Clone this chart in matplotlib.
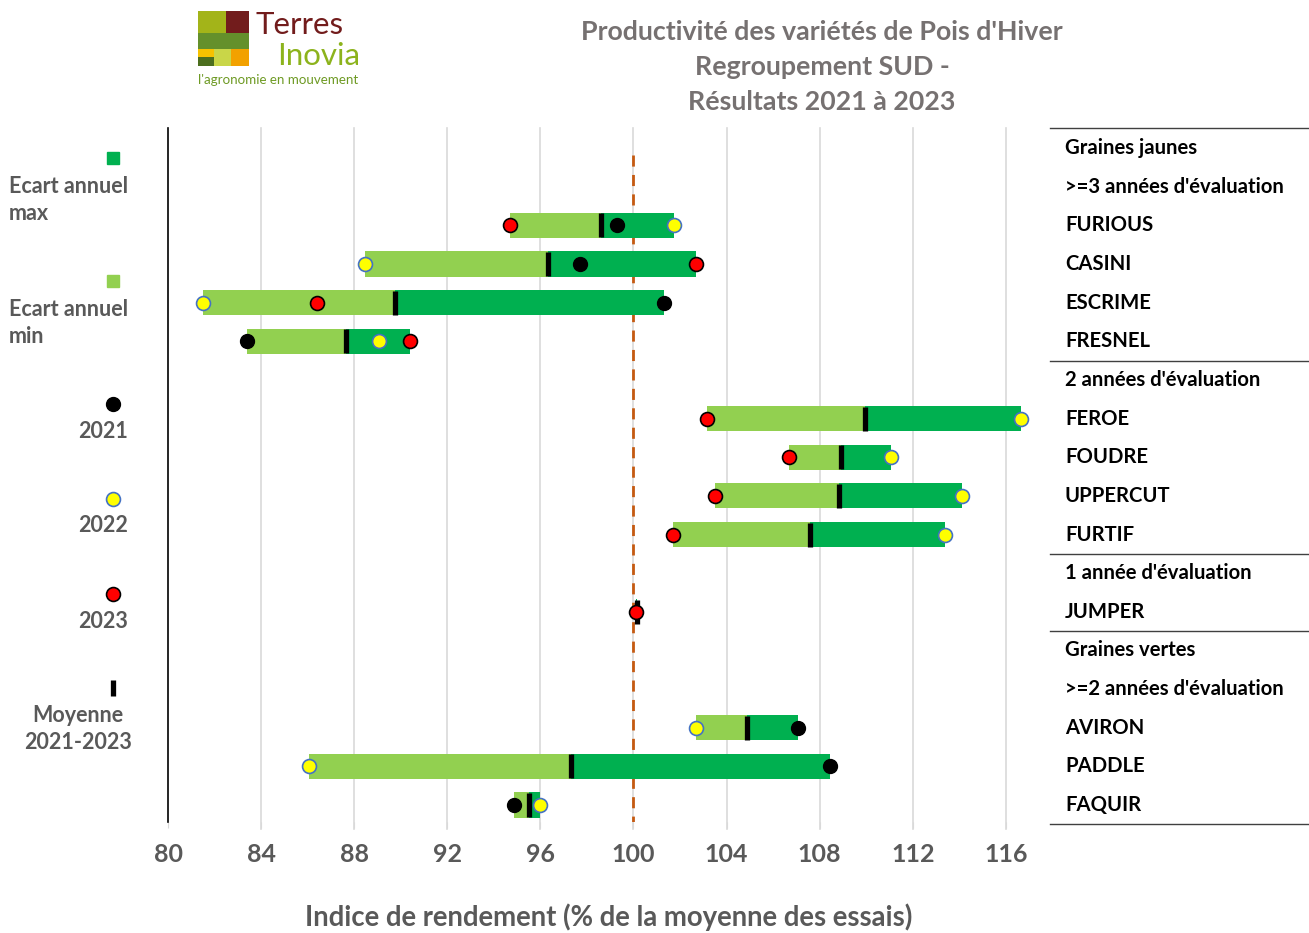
import matplotlib
matplotlib.use("Agg")
import matplotlib.pyplot as plt
from matplotlib.patches import Rectangle
from matplotlib.transforms import blended_transform_factory
import numpy as np

plt.rcParams['font.family'] = ['Lato', 'DejaVu Sans']
plt.rcParams['font.weight'] = 'bold'

# lignes du tableau de droite (en-têtes + variétés)
row_labels = ["Graines jaunes", ">=3 années d'évaluation", "FURIOUS", "CASINI", "ESCRIME",
              "FRESNEL", "2 années d'évaluation", "FEROE", "FOUDRE", "UPPERCUT", "FURTIF",
              "1 année d'évaluation", "JUMPER", "Graines vertes", ">=2 années d'évaluation",
              "AVIRON", "PADDLE", "FAQUIR"]
group_breaks = [5.5, 10.5, 12.5]

varietes = ["FURIOUS", "CASINI", "ESCRIME", "FRESNEL", "FEROE", "FOUDRE", "UPPERCUT",
            "FURTIF", "JUMPER", "AVIRON", "PADDLE", "FAQUIR"]
v2021 = [99.3, 97.7, 101.3, 83.4, None, None, None, None, None, 107.05, 108.45, 94.85]
v2022 = [101.75, 88.45, 81.5, 89.05, 116.65, 111.05, 114.1, 113.4, None, 102.7, 86.05, 96.0]
v2023 = [94.7, 102.7, 86.4, 90.4, 103.15, 106.7, 103.5, 101.7, 100.1, None, None, None]
moyenne = [98.6, 96.35, 89.75, 87.65, 109.95, 108.9, 108.85, 107.6, 100.15, 104.9, 97.3, 95.5]

x_ticks = [80, 84, 88, 92, 96, 100, 104, 108, 112, 116]

C_MAX = '#00B050'
C_MIN = '#92D050'
GRAY = '#595959'

fig = plt.figure(figsize=(13.09, 9.33), dpi=100)
ax = fig.add_axes([168 / 1309, 1 - 822 / 933, (1050 - 168) / 1309, (822 - 128) / 933])

ax.set_xlim(80, 117.9)
ax.set_ylim(17.44, -0.52)

for xt in x_ticks[1:]:
    ax.axvline(xt, color='#D9D9D9', lw=1.2, zorder=0, clip_on=False, ymin=-0.01)

ax.vlines(100, 0.18, 17.5, colors='#C55A11', lw=2, linestyles=(0, (4, 3)), zorder=1)

for i, nom in enumerate(varietes):
    y = row_labels.index(nom)
    vals = [v for v in (v2021[i], v2022[i], v2023[i]) if v is not None]
    lo, hi, m = min(vals), max(vals), moyenne[i]
    ax.barh(y, m - lo, left=lo, height=0.65, color=C_MIN, zorder=2)
    ax.barh(y, hi - m, left=m, height=0.65, color=C_MAX, zorder=2)
    ax.plot(m, y, marker='|', ms=17, mew=3.8, color='black', zorder=4)
    if v2021[i] is not None:
        ax.plot(v2021[i], y, 'o', ms=10, color='black', zorder=5)
    if v2022[i] is not None:
        ax.plot(v2022[i], y, 'o', ms=10, mfc='#FFFF00', mec='#4472C4', mew=1.2, zorder=5)
    if v2023[i] is not None:
        ax.plot(v2023[i], y, 'o', ms=10, mfc='#FF0000', mec='black', mew=1.2, zorder=5)

ax.set_xticks(x_ticks)
ax.set_yticks([])
ax.tick_params(axis='x', length=4, color='#D9D9D9', pad=11, labelsize=18, labelcolor=GRAY)
for s in ['top', 'right', 'bottom']:
    ax.spines[s].set_visible(False)
ax.spines['left'].set_color('black')
ax.spines['left'].set_linewidth(1.2)

# tableau de droite
tr = blended_transform_factory(fig.transFigure, ax.transData)
for y, lab in enumerate(row_labels):
    ax.text(1065 / 1309, y, lab, transform=tr, ha='left', va='center', fontsize=14.6,
            color='black', clip_on=False)
for yb in [-0.52] + group_breaks + [17.5]:
    ax.plot([1050 / 1309, 1.0], [yb, yb], transform=tr, color='#404040', lw=1, clip_on=False)

# calque pour logo, titre, légende
ov = fig.add_axes([0, 0, 1, 1], zorder=-1)
ov.set_xlim(0, 1309)
ov.set_ylim(933, 0)
ov.axis('off')

logo = [(198, 11, 28, 22, '#A3B419'), (226, 11, 23, 22, '#721C1C'), (198, 33, 51, 16, '#64902B'),
        (198, 49, 16, 8, '#F6C200'), (198, 57, 16, 9, '#4C6E1E'), (214, 49, 17, 17, '#C9D648'),
        (231, 49, 18, 17, '#F2A100')]
for x0, y0, w, h, c in logo:
    ov.add_patch(Rectangle((x0, y0), w, h, color=c, lw=0))
ov.text(256, 25, "Terres", fontsize=22.5, weight='normal', color='#721C1C', va='center', ha='left')
ov.text(277, 56, "Inovia", fontsize=22.5, weight='normal', color='#8CB31C', va='center', ha='left')
ov.text(198, 80, "l'agronomie en mouvement", fontsize=9.6, weight='normal', color='#6E9A24',
        va='center', ha='left')

for k, line in enumerate(["Productivité des variétés de Pois d'Hiver", "Regroupement SUD -",
                          "Résultats 2021 à 2023"]):
    ov.text(822, 32 + 35 * k, line, fontsize=19.3, color='#767171', ha='center', va='center')

ov.text(609, 917, "Indice de rendement (% de la moyenne des essais)", fontsize=19.8, color=GRAY,
        ha='center', va='center')

# légende à gauche
ov.plot(113, 158, 's', ms=9, color=C_MAX)
ov.text(9, 200, "Ecart annuel\nmax", fontsize=15.5, color=GRAY, ha='left', va='center', linespacing=1.35)
ov.plot(113, 281, 's', ms=9, color=C_MIN)
ov.text(9, 323, "Ecart annuel\nmin", fontsize=15.5, color=GRAY, ha='left', va='center', linespacing=1.35)
ov.plot(113, 404, 'o', ms=10, color='black')
ov.text(128, 431, "2021", fontsize=15.5, color=GRAY, ha='right', va='center')
ov.plot(113, 499, 'o', ms=10, mfc='#FFFF00', mec='#4472C4', mew=1.2)
ov.text(128, 526, "2022", fontsize=15.5, color=GRAY, ha='right', va='center')
ov.plot(113, 594, 'o', ms=10, mfc='#FF0000', mec='black', mew=1.2)
ov.text(128, 621, "2023", fontsize=15.5, color=GRAY, ha='right', va='center')
ov.plot(113, 688, '|', ms=11, mew=3.8, color='black')
ov.text(78, 729, "Moyenne\n2021-2023", fontsize=15.5, color=GRAY, ha='center', va='center', linespacing=1.35)

fig.savefig("out.png", dpi=100)
